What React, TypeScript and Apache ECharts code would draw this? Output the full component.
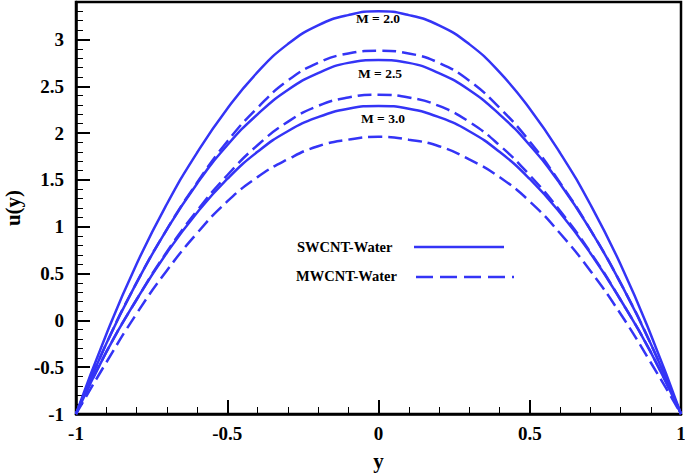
import React, { useEffect, useRef } from "react";
import * as echarts from "echarts";

const yCoords = [-1, -0.9, -0.8, -0.7, -0.6, -0.5, -0.4, -0.3, -0.2, -0.1, 0, 0.1, 0.2, 0.3, 0.4, 0.5, 0.6, 0.7, 0.8, 0.9, 1];

const swM20 = [-1, -0.15, 0.6, 1.24, 1.79, 2.26, 2.65, 2.95, 3.15, 3.26, 3.3, 3.26, 3.15, 2.95, 2.65, 2.26, 1.79, 1.24, 0.6, -0.15, -1];
const swM25 = [-1, -0.25, 0.4, 0.97, 1.46, 1.87, 2.2, 2.46, 2.64, 2.75, 2.78, 2.75, 2.64, 2.46, 2.2, 1.87, 1.46, 0.97, 0.4, -0.25, -1];
const swM30 = [-1, -0.34, 0.22, 0.72, 1.15, 1.51, 1.8, 2.02, 2.17, 2.26, 2.29, 2.26, 2.17, 2.02, 1.8, 1.51, 1.15, 0.72, 0.22, -0.34, -1];
const mwM20 = [-1, -0.25, 0.4, 0.97, 1.47, 1.91, 2.27, 2.56, 2.75, 2.85, 2.88, 2.85, 2.75, 2.56, 2.27, 1.91, 1.47, 0.97, 0.4, -0.25, -1];
const mwM25 = [-1, -0.34, 0.22, 0.73, 1.17, 1.55, 1.87, 2.12, 2.29, 2.38, 2.41, 2.38, 2.29, 2.12, 1.87, 1.55, 1.17, 0.73, 0.22, -0.34, -1];
const mwM30 = [-1, -0.45, 0.07, 0.53, 0.93, 1.27, 1.53, 1.72, 1.86, 1.93, 1.96, 1.93, 1.86, 1.72, 1.53, 1.27, 0.93, 0.53, 0.07, -0.45, -1];

const mLabels = ["M = 2.0", "M = 2.5", "M = 3.0"];
const legendNames = ["SWCNT-Water", "MWCNT-Water"];

const BLUE = "#3434f6";
const FONT = "'Liberation Serif', 'Times New Roman', serif";

export default function App() {
  const ref = useRef<HTMLDivElement>(null);
  useEffect(() => {
    if (!ref.current) return;
    const chart = echarts.init(ref.current, null, { renderer: "svg" });
    const mk = (vals: number[], dashed: boolean) => ({
      type: "line",
      data: yCoords.map((y, i) => [y, vals[i]]),
      smooth: true,
      showSymbol: false,
      symbol: "none",
      lineStyle: { color: BLUE, width: 2.5, type: dashed ? [14, 6] : "solid" },
    });
    const textStyle = { fontFamily: FONT, fontWeight: "bold", fontSize: 13.5, fill: "#000" };
    const legendStyle = { fontFamily: FONT, fontWeight: "bold", fontSize: 14.5, fill: "#000" };
    chart.setOption({
      animation: false,
      backgroundColor: "#fff",
      grid: {
        left: 76, right: 4, top: 2, bottom: 59,
        outerBoundsMode: "none",
        containLabel: false,
        show: true, borderColor: "#000", borderWidth: 2.5, backgroundColor: "transparent",
      },
      xAxis: {
        type: "value",
        min: -1,
        max: 1,
        interval: 0.5,
        name: "y",
        nameLocation: "middle",
        nameGap: 36,
        nameTextStyle: { fontFamily: FONT, fontWeight: "bold", fontSize: 21, color: "#000" },
        axisLine: { show: true, onZero: false, lineStyle: { color: "#000", width: 2.5 } },
        axisTick: { show: true, inside: true, length: 14, lineStyle: { color: "#000", width: 2 } },
        minorTick: { show: true, splitNumber: 5, length: 7, lineStyle: { color: "#000", width: 1 } },
        splitLine: { show: false },
        axisLabel: { fontFamily: FONT, fontWeight: "bold", fontSize: 19, color: "#000", margin: 10 },
      },
      yAxis: {
        type: "value",
        min: -1,
        max: 3.4,
        interval: 0.5,
        name: "u(y)",
        nameLocation: "middle",
        nameGap: 46,
        nameRotate: 90,
        nameTextStyle: { fontFamily: FONT, fontWeight: "bold", fontSize: 21, color: "#000" },
        axisLine: { show: true, onZero: false, lineStyle: { color: "#000", width: 2.5 } },
        axisTick: { show: true, inside: true, length: 14, lineStyle: { color: "#000", width: 2 } },
        minorTick: { show: true, splitNumber: 5, length: 7, lineStyle: { color: "#000", width: 1 } },
        splitLine: { show: false },
        axisLabel: { fontFamily: FONT, fontWeight: "bold", fontSize: 19, color: "#000", margin: 12, showMaxLabel: false },
      },
      series: [
        mk(swM20, false),
        mk(swM25, false),
        mk(swM30, false),
        mk(mwM20, true),
        mk(mwM25, true),
        mk(mwM30, true),
      ],
      graphic: [
        { type: "text", x: 378, y: 18, style: { ...textStyle, text: mLabels[0], align: "center", verticalAlign: "middle" } },
        { type: "text", x: 380, y: 73, style: { ...textStyle, text: mLabels[1], align: "center", verticalAlign: "middle" } },
        { type: "text", x: 383, y: 118, style: { ...textStyle, text: mLabels[2], align: "center", verticalAlign: "middle" } },
        { type: "text", x: 297, y: 247, style: { ...legendStyle, text: legendNames[0], align: "left", verticalAlign: "middle" } },
        { type: "text", x: 296, y: 276, style: { ...legendStyle, text: legendNames[1], align: "left", verticalAlign: "middle" } },
        { type: "line", shape: { x1: 414, y1: 247, x2: 504, y2: 247 }, style: { stroke: BLUE, lineWidth: 2.5 } },
        { type: "line", shape: { x1: 416, y1: 277, x2: 514, y2: 277 }, style: { stroke: BLUE, lineWidth: 2.5, lineDash: [17, 7] } },
      ],
    });
    return () => chart.dispose();
  }, []);
  return <div ref={ref} style={{ position: "fixed", left: 0, top: 0, width: 685, height: 473 }} />;
}
